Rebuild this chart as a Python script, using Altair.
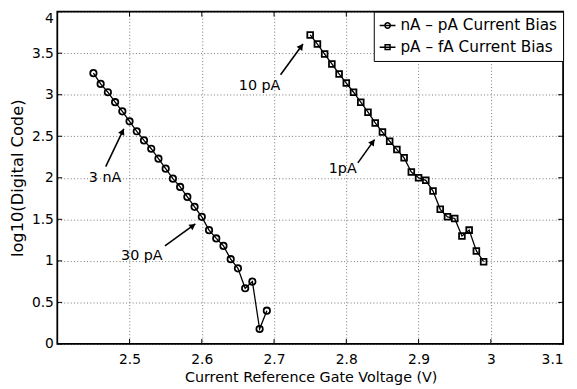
import math
import altair as alt
import pandas as pd

# ---------------- data ----------------
series_names = ["nA – pA Current Bias", "pA – fA Current Bias"]

na_voltage = [2.45, 2.46, 2.47, 2.48, 2.49, 2.50, 2.51, 2.52, 2.53, 2.54,
              2.55, 2.56, 2.57, 2.58, 2.59, 2.60, 2.61, 2.62, 2.63, 2.64,
              2.65, 2.66, 2.67, 2.68, 2.69]
na_code = [3.26, 3.13, 3.03, 2.91, 2.80, 2.68, 2.56, 2.45, 2.35, 2.23,
           2.11, 1.99, 1.89, 1.77, 1.65, 1.53, 1.37, 1.27, 1.18, 1.02,
           0.91, 0.67, 0.75, 0.18, 0.40]

pa_voltage = [2.75, 2.76, 2.77, 2.78, 2.79, 2.80, 2.81, 2.82, 2.83, 2.84,
              2.85, 2.86, 2.87, 2.88, 2.89, 2.90, 2.91, 2.92, 2.93, 2.94,
              2.95, 2.96, 2.97, 2.98, 2.99]
pa_code = [3.72, 3.61, 3.49, 3.37, 3.25, 3.14, 3.03, 2.91, 2.79, 2.66,
           2.55, 2.44, 2.34, 2.24, 2.07, 2.00, 1.97, 1.84, 1.62, 1.53,
           1.51, 1.30, 1.37, 1.12, 0.99]

x_ticks = [2.5, 2.6, 2.7, 2.8, 2.9, 3.0, 3.1]
y_ticks = [0, 0.5, 1, 1.5, 2, 2.5, 3, 3.5, 4]

ann_labels = ["3 nA", "30 pA", "10 pA", "1pA"]
ann_text_x = [2.466, 2.517, 2.680, 2.795]
ann_text_y = [2.00, 1.06, 3.11, 2.11]
arrow_tail_x = [2.467, 2.549, 2.709, 2.816]
arrow_tail_y = [2.135, 1.18, 3.24, 2.18]
arrow_head_x = [2.492, 2.591, 2.740, 2.839]
arrow_head_y = [2.59, 1.444, 3.61, 2.46]

# ---------------- layout ----------------
W, H = 513, 337
FONT = "DejaVu Sans"
kx = W / 0.7
ky = H / 4.0

pts = pd.DataFrame({
    "v": na_voltage + pa_voltage,
    "code": na_code + pa_code,
    "series": [series_names[0]] * len(na_voltage) + [series_names[1]] * len(pa_voltage),
})

# arrowheads: angle and a small step back so the tip lands on the head point
head_x, head_y, head_ang = [], [], []
for x0, y0, x1, y1 in zip(arrow_tail_x, arrow_tail_y, arrow_head_x, arrow_head_y):
    dx = (x1 - x0) * kx
    dy = (y1 - y0) * ky
    L = math.hypot(dx, dy)
    ux, uy = dx / L, dy / L
    head_ang.append(math.degrees(math.atan2(dx, dy)) % 360)
    head_x.append(x1 - ux * 3.0 / kx)
    head_y.append(y1 - uy * 3.0 / ky)

arrows = pd.DataFrame({
    "x0": arrow_tail_x, "y0": arrow_tail_y,
    "x1": arrow_head_x, "y1": arrow_head_y,
    "hx": head_x, "hy": head_y, "ang": head_ang,
})
labels = pd.DataFrame({"tx": ann_text_x, "ty": ann_text_y, "label": ann_labels})

xscale = alt.Scale(domain=[2.4, 3.1], nice=False, zero=False)
yscale = alt.Scale(domain=[0, 4], nice=False, zero=False)

xaxis = alt.Axis(values=x_ticks, format="~g", grid=True, tickSize=0, domain=False,
                 labelPadding=9, title="Current Reference Gate Voltage (V)",
                 titleX=257, titleY=34, titleBaseline="middle", titleAlign="center",
                 titleFontSize=14.5)
yaxis = alt.Axis(values=y_ticks, format="~g", grid=True, tickSize=0, domain=False,
                 labelPadding=4, title="log10(Digital Code)",
                 labelBaseline={"condition": {"test": "datum.value == 4", "value": "top"},
                                "value": "middle"},
                 titleX=-40, titleY=H / 2, titleAngle=270, titleBaseline="middle",
                 titleAlign="center", titleFontSize=16.5)


def X(field):
    return alt.X(field, scale=xscale, axis=xaxis)


def Y(field):
    return alt.Y(field, scale=yscale, axis=yaxis)


base = alt.Chart(pts)

lines = base.mark_line(color="black", strokeWidth=1.3).encode(
    x=X("v:Q"), y=Y("code:Q"), detail="series:N",
)

points = base.mark_point(filled=False, color="black", strokeWidth=1.8, opacity=1).encode(
    x=X("v:Q"), y=Y("code:Q"),
    shape=alt.Shape("series:N", scale=alt.Scale(domain=series_names, range=["circle", "square"]),
                    legend=None),
    size=alt.Size("series:N", scale=alt.Scale(domain=series_names, range=[42, 34]), legend=None),
)

circ_path = "M-1,0L1,0M0.34,0A0.34,0.34,0,1,1,-0.34,0A0.34,0.34,0,1,1,0.34,0Z"
sq_path = "M-1,0L1,0M-0.31,-0.31L0.31,-0.31L0.31,0.31L-0.31,0.31Z"

legend_layer = base.transform_filter("false").mark_point(
    filled=False, color="black", opacity=1
).encode(
    x=X("v:Q"), y=Y("code:Q"),
    shape=alt.Shape(
        "series:N",
        scale=alt.Scale(domain=series_names, range=[circ_path, sq_path]),
        legend=alt.Legend(
            title=None, orient="top-right", offset=0, padding=5, rowPadding=4,
            labelFont=FONT, labelFontSize=15.5, labelColor="black", labelLimit=400,
            labelOffset=4, symbolSize=256, symbolStrokeWidth=1.5,
            symbolStrokeColor="black", symbolFillColor="transparent", symbolOpacity=1,
            strokeColor="black", fillColor="white", cornerRadius=0,
        ),
    ),
)

xt = alt.Chart(pd.DataFrame({"t": x_ticks})).mark_rule(color="black", strokeWidth=1)
yt = alt.Chart(pd.DataFrame({"t": y_ticks})).mark_rule(color="black", strokeWidth=1)
tick_layers = [
    xt.encode(x=X("t:Q"), y=alt.value(H), y2=alt.value(H - 5)),
    xt.encode(x=X("t:Q"), y=alt.value(0), y2=alt.value(5)),
    yt.encode(y=Y("t:Q"), x=alt.value(0), x2=alt.value(5)),
    yt.encode(y=Y("t:Q"), x=alt.value(W), x2=alt.value(W - 5)),
]

arrow_lines = alt.Chart(arrows).mark_rule(color="black", strokeWidth=1.6).encode(
    x=X("x0:Q"), y=Y("y0:Q"), x2="x1:Q", y2="y1:Q"
)
arrow_heads = alt.Chart(arrows).mark_point(
    shape="triangle-up", filled=True, color="black", size=50, opacity=1
).encode(
    x=X("hx:Q"), y=Y("hy:Q"),
    angle=alt.Angle("ang:Q", scale=None),
)
texts = alt.Chart(labels).mark_text(
    font=FONT, fontSize=14.5, color="black", align="center", baseline="middle"
).encode(x=X("tx:Q"), y=Y("ty:Q"), text="label:N")

chart = alt.layer(
    lines, *tick_layers, points, arrow_lines, arrow_heads, texts, legend_layer
).resolve_scale(
    shape="independent", size="independent"
).properties(
    width=W, height=H,
    autosize=alt.AutoSizeParams(type="none"),
    padding={"left": 50, "top": 1, "right": 6, "bottom": 43},
).configure_view(
    stroke="black", strokeWidth=1.8
).configure_axis(
    labelFont=FONT, labelFontSize=14, labelColor="black",
    titleFont=FONT, titleColor="black", titleFontWeight="normal",
    gridColor="#000000", gridOpacity=0.55, gridWidth=1, gridDash=[1, 2.3],
)

chart.save("out.html", embed_options={"renderer": "svg", "actions": False})
